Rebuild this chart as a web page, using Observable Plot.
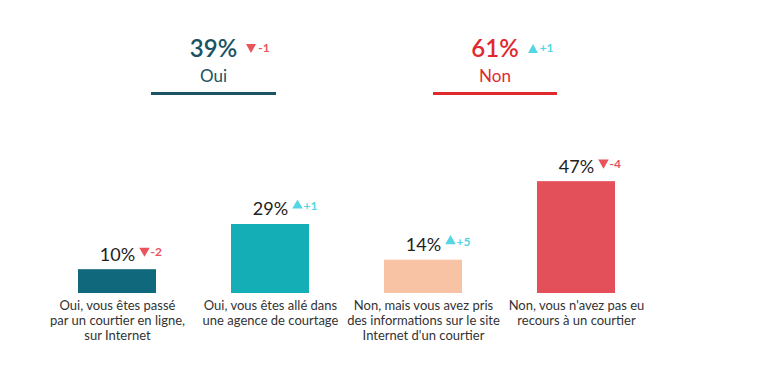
<!DOCTYPE html>
<html>
<head>
<meta charset="utf-8">
<script src="https://cdn.jsdelivr.net/npm/d3@7"></script>
<script src="https://cdn.jsdelivr.net/npm/@observablehq/plot@0.6"></script>
<style>
  body { margin: 0; background: #fff; font-family: Lato, "Open Sans", sans-serif; }
  #wrap { width: 768px; height: 370px; position: relative; overflow: hidden; }
  #header { position: relative; width: 768px; height: 110px; }
  .grp { position: absolute; top: 0; height: 110px; }
  .pct { position: absolute; top: 36px; width: 100%; text-align: center; font-size: 24px; line-height: 24px; font-weight: 600; }
  .pct .v { position: relative; display: inline-block; }
  .pct .d { position: absolute; left: calc(100% + 9px); top: 6px; display: flex; align-items: center; gap: 2px; font-size: 12px; line-height: 12px; font-weight: 700; white-space: nowrap; }
  .tri { display: inline-block; width: 0; height: 0; border-left: 5px solid transparent; border-right: 5px solid transparent; }
  .nm { position: absolute; top: 67px; width: 100%; text-align: center; font-size: 17px; line-height: 17px; }
  .ul { position: absolute; top: 92px; left: 0; width: 100%; height: 3px; }
  #chart { position: absolute; top: 110px; left: 0; }
</style>
</head>
<body>
<div id="wrap">
  <div id="header"></div>
  <div id="chart"></div>
</div>
<script>
// ---- data ----
const categories = [
  "Oui, vous êtes passé\npar un courtier en ligne,\nsur Internet",
  "Oui, vous êtes allé dans\nune agence de courtage",
  "Non, mais vous avez pris\ndes informations sur le site\nInternet d'un courtier",
  "Non, vous n'avez pas eu\nrecours à un courtier"
];
const values = [10, 29, 14, 47];
const deltas = [-2, 1, 5, -4];

const groups = ["Oui", "Non"];
const groupTotals = [39, 61];
const groupDeltas = [-1, 1];

// ---- styles ----
const barColors = ["#0f687b", "#13aeb6", "#f7c3a4", "#e4505a"];
const groupColors = ["#1a5363", "#e0282f"];
const upColor = "#55d6e4";
const downColor = "#e9535c";
const groupLeft = [151, 433];
const groupWidth = [125, 124];

const fmtDelta = d => (d > 0 ? "+" : "") + d;

// ---- header ----
const header = d3.select("#header");
groups.forEach((g, i) => {
  const grp = header.append("div").attr("class", "grp")
    .style("left", groupLeft[i] + "px").style("width", groupWidth[i] + "px")
    .style("color", groupColors[i]);
  const v = grp.append("div").attr("class", "pct").append("span").attr("class", "v").text(groupTotals[i] + "%");
  const d = v.append("span").attr("class", "d").style("color", groupDeltas[i] < 0 ? downColor : upColor);
  const t = d.append("span").attr("class", "tri");
  if (groupDeltas[i] < 0) t.style("border-top", "9px solid " + downColor);
  else t.style("border-bottom", "9px solid " + upColor);
  d.append("span").text(fmtDelta(groupDeltas[i]));
  grp.append("div").attr("class", "nm").text(g);
  grp.append("div").attr("class", "ul").style("background", groupColors[i]);
});

// ---- chart ----
const data = categories.map((c, i) => ({cat: c, value: values[i], delta: deltas[i]}));

const chart = Plot.plot({
  width: 768,
  height: 260,
  marginTop: 64,
  marginBottom: 77,
  marginLeft: 2,
  marginRight: 76,
  x: {domain: categories, padding: 0.49, axis: null},
  y: {domain: [0, 50], axis: null},
  color: {domain: categories, range: barColors},
  style: {fontFamily: "Lato, 'Open Sans', sans-serif", background: "white", overflow: "visible"},
  marks: [
    Plot.barY(data, {x: "cat", y: "value", fill: "cat"}),
    Plot.text(data, {x: "cat", y: "value", text: d => d.value + "%", dy: -9, lineAnchor: "bottom", fontSize: 18, fill: "#222"}),
    Plot.dot(data, {x: "cat", y: "value", symbol: "triangle", r: 3.9, rotate: d => d.delta < 0 ? 180 : 0,
      dx: 27, dy: -19, fill: d => d.delta < 0 ? downColor : upColor, stroke: null}),
    Plot.text(data, {x: "cat", y: "value", text: d => fmtDelta(d.delta), dx: 33, dy: -14, textAnchor: "start",
      lineAnchor: "bottom", fontSize: 12, fontWeight: "bold", fill: d => d.delta < 0 ? downColor : upColor}),
    Plot.text(data, {x: "cat", y: 0, text: "cat", lineAnchor: "top", dy: 6, fontSize: 13, lineHeight: 1.15, fill: "#333"})
  ]
});
document.getElementById("chart").appendChild(chart);
</script>
</body>
</html>
